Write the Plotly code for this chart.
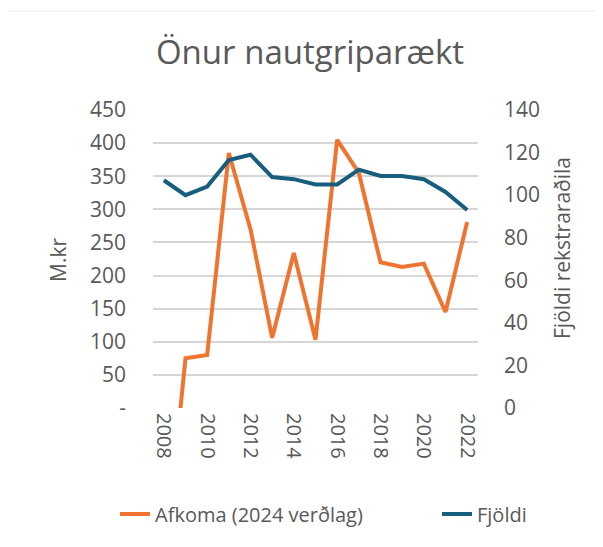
import plotly.graph_objects as go

years = list(range(2008, 2023))
afkoma = [-250, 75, 80, 385, 270, 106, 234, 103, 405, 355, 220, 213, 218, 145, 281]
fjoldi = [107, 100, 104, 116.5, 119, 108.5, 107.5, 105, 105, 112, 109, 109, 107.5, 101.5, 93]
left_ticks = [0, 50, 100, 150, 200, 250, 300, 350, 400, 450]
left_labels = ["-", "50", "100", "150", "200", "250", "300", "350", "400", "450"]
right_ticks = [0, 20, 40, 60, 80, 100, 120, 140]
x_ticks = [2008, 2010, 2012, 2014, 2016, 2018, 2020, 2022]
left_title = "M.kr"
right_title = "Fjöldi rekstraraðila"

FONT = "Open Sans"
GRAY = "#595959"
ORANGE = "#EE7430"
BLUE = "#175E7E"

# The page body has an 8px margin, so figure coords = reference coords - 8.
W, H = 587, 531

fig = go.Figure()
fig.add_trace(go.Scatter(x=years, y=afkoma, mode="lines", name="Afkoma (2024 verðlag)",
                         line=dict(color=ORANGE, width=4), yaxis="y", legend="legend"))
fig.add_trace(go.Scatter(x=years, y=fjoldi, mode="lines", name="Fjöldi",
                         line=dict(color=BLUE, width=4), yaxis="y2", legend="legend2"))

leg_y = 1 - 506 / H
fig.update_layout(
    width=W, height=H,
    margin=dict(l=145, r=117, t=102, b=131, autoexpand=False),
    paper_bgcolor="white", plot_bgcolor="white",
    font=dict(family=FONT, color=GRAY, size=20),
    title=dict(text="Önur nautgriparækt", xref="container", x=302 / W, xanchor="center",
               yref="container", y=1 - 44 / H, yanchor="middle",
               font=dict(size=33, color=GRAY, family=FONT)),
    xaxis=dict(range=[2007.5, 2022.5], tickvals=x_ticks, tickangle=90, showgrid=False,
               zeroline=False, showline=False, ticks="", automargin=False,
               ticklabelstandoff=4, tickfont=dict(size=20, color=GRAY)),
    yaxis=dict(range=[0, 450], tickvals=left_ticks, ticktext=left_labels, showgrid=True,
               gridcolor="#D6D6D6", gridwidth=1.5, zeroline=False, showline=False, ticks="",
               ticklabelstandoff=26, automargin=False,
               tickfont=dict(size=21, color=GRAY)),
    yaxis2=dict(range=[0, 140], tickvals=right_ticks, overlaying="y", side="right",
                showgrid=False, zeroline=False, showline=False, ticks="",
                ticklabelstandoff=25, automargin=False,
                tickfont=dict(size=21, color=GRAY)),
    legend=dict(xref="container", x=107 / W, xanchor="left",
                yref="container", y=leg_y, yanchor="middle",
                font=dict(size=20, color=GRAY), bgcolor="rgba(0,0,0,0)"),
    legend2=dict(xref="container", x=429 / W, xanchor="left",
                 yref="container", y=leg_y, yanchor="middle",
                 font=dict(size=20, color=GRAY), bgcolor="rgba(0,0,0,0)"),
    showlegend=True,
    annotations=[
        dict(text=left_title, textangle=-90, xref="paper", yref="paper",
             x=(50 - 145) / 325, y=(400 - 252) / 298, xanchor="center", yanchor="middle",
             showarrow=False, font=dict(size=21, color=GRAY)),
        dict(text=right_title, textangle=-90, xref="paper", yref="paper",
             x=(554 - 145) / 325, y=(400 - 240) / 298, xanchor="center", yanchor="middle",
             showarrow=False, font=dict(size=21, color=GRAY)),
    ],
)
fig.add_shape(type="line", xref="paper", yref="paper", x0=-145 / 325, x1=442 / 325,
              y0=(400 - 3) / 298, y1=(400 - 3) / 298, line=dict(color="#EBEBEB", width=1))
fig.write_html("out.html")
